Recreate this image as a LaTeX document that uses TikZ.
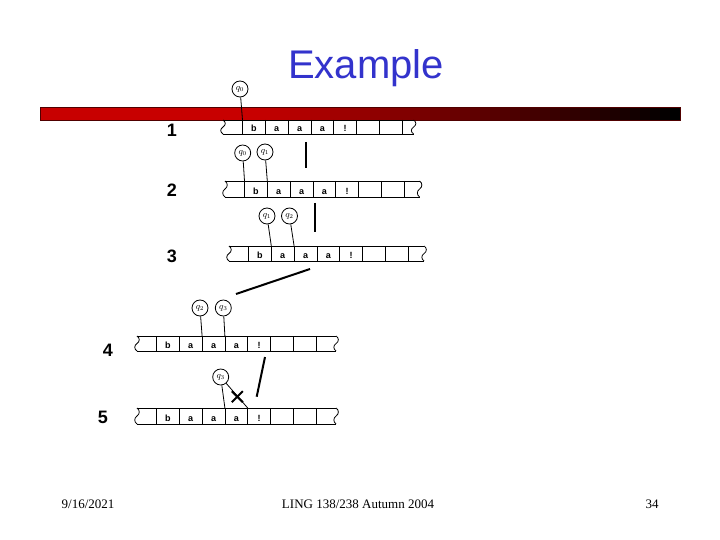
\documentclass[tikz,border=0pt]{standalone}
\usepackage{amsmath}
\usepackage{fontspec}
\setmainfont{Liberation Serif}
\setsansfont{Liberation Sans}
\usepackage{tikz}
\usetikzlibrary{shapes,calc}
\definecolor{barred}{RGB}{200,0,0}
\definecolor{titleblue}{RGB}{51,51,204}

\begin{document}
\begin{tikzpicture}[x=1pt,y=-1pt,line width=0.8pt]
\tikzset{
	head node/.style = {circle, draw, inner sep = 0, minimum size = 16pt, font = \fontsize{9}{9}\selectfont},
	row label/.style = {inner sep = 0, font = \sffamily\bfseries\fontsize{18}{18}\selectfont},
	cell letter/.style = {inner sep = 0, anchor = base, font = \sffamily\bfseries\fontsize{9}{9}\selectfont},
	foot text/.style = {inner sep = 0, anchor = base, font = \fontsize{13}{13}\selectfont},
	sep bar/.style = {line width = 2pt},
}
\useasboundingbox (0,0) rectangle (720,540);
\node[anchor = base, text = titleblue, font = \sffamily\fontsize{40}{40}\selectfont](title) at (366,79){Example};
\fill[barred] (40,107) rectangle (251,120);
\foreach \i in {0,...,42}{
	\pgfmathsetmacro\p{100-\i*100/42}
	\fill[barred!\p!black] (250+\i*10,107) rectangle (261+\i*10,120);
}
\draw[black!60!barred, thin] (40,107) rectangle (680,120);
\foreach \r/\xl/\yt/\h/\xe in {1/223/120/14/11.5, 2/225/181/16/15.5, 3/229/246/15/16, 4/137/336/15/20, 5/137/408/16/20}
{
	\pgfmathsetmacro\xr{\xl+19.5+7*22.8+\xe}
	\draw (\xl,\yt) -- (\xr,\yt) (\xl,\yt+\h) -- (\xr,\yt+\h);
	\foreach \k in {0,...,7}{
		\coordinate (r\r d\k) at (\xl+19.5+\k*22.8,\yt);
		\draw (r\r d\k) -- ++(0,\h);
	}
	\foreach \e in {\xl,\xr}{
		\draw (\e,\yt) .. controls +(3,2) and +(3,-2) .. (\e,\yt+\h/2)
			.. controls +(-3,2) and +(-3,-2) .. (\e,\yt+\h);
	}
	\foreach \c [count = \i from 0] in {b,a,a,a,!}{
		\node[cell letter](r\r c\i) at (\xl+19.5+\i*22.8+11.4,\yt+\h-2.5){\c};
	}
}
\node[row label](n1) at (172,130){1};
\node[row label](n2) at (172,190){2};
\node[row label](n3) at (172,256){3};
\node[row label](n4) at (108,350){4};
\node[row label](n5) at (103,417){5};
\node[head node](h0) at (240,89){$q_0$};
\node[head node](h1a) at (242.7,153){$q_0$};
\node[head node](h1b) at (265,152){$q_1$};
\node[head node](h2a) at (267,216){$q_1$};
\node[head node](h2b) at (289.5,216){$q_2$};
\node[head node](h3a) at (200,308){$q_2$};
\node[head node](h3b) at (223.3,308){$q_3$};
\node[head node](h4) at (220.7,377){$q_3$};
\draw (h0) -- (r1d0);
\draw (h1a) -- (r2d0);
\draw (h1b) -- (r2d1);
\draw (h2a) -- (r3d1);
\draw (h2b) -- (r3d2);
\draw (h3a) -- (r4d2);
\draw (h3b) -- (r4d3);
\draw (h4) -- (r5d3);
\draw (h4) -- (r5d4);
\node[cross out, draw, line width = 2pt, minimum size = 9pt, inner sep = 0](stop) at (237.3,396.7){};
\draw[sep bar] (306,142) -- (306,168);
\draw[sep bar] (315,203) -- (315,232);
\draw[sep bar] (236,294) -- (310,269);
\draw[sep bar] (265,357) -- (256.7,396.7);
\node[foot text](date) at (88,508){9/16/2021};
\node[foot text](course) at (358,508){LING 138/238 Autumn 2004};
\node[foot text](page) at (652,508){34};
\end{tikzpicture}
\end{document}
